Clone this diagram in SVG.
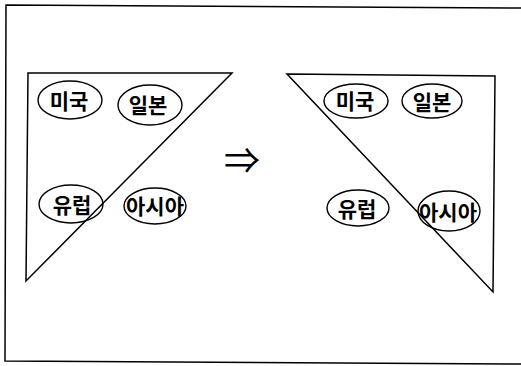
<svg xmlns="http://www.w3.org/2000/svg" width="521" height="366" viewBox="0 0 521 366">
<style>
.ln{fill:none;stroke:#000;stroke-width:1.5;stroke-linejoin:miter}
.el{fill:none;stroke:#000;stroke-width:1.4}
.t{font-family:"Noto Sans CJK KR","Noto Sans",sans-serif;font-size:21px;font-weight:bold;text-anchor:middle;fill:#000}
.ar{font-family:"Noto Sans CJK KR","DejaVu Sans",sans-serif;font-size:36px;text-anchor:middle;fill:#000}
</style>
<rect width="521" height="366" fill="#fff"/>
<g id="frame">
<polyline class="ln" points="521,8 6,5 5,361 521,364"/>
</g>
<g id="connectors">
<polygon class="ln" points="28,73 232,73 26,281"/>
<polygon class="ln" points="287,74 495,76 493,292"/>
</g>
<g id="left-usa"><ellipse class="el" cx="70" cy="100" rx="32" ry="19"/><text class="t" x="69" y="109">미국</text></g>
<g id="left-japan"><ellipse class="el" cx="150" cy="105" rx="32" ry="20"/><text class="t" x="148" y="113">일본</text></g>
<g id="left-europe"><ellipse class="el" cx="71" cy="204" rx="32" ry="19"/><text class="t" x="72" y="213">유럽</text></g>
<g id="left-asia"><ellipse class="el" cx="155" cy="206" rx="31" ry="18"/><text class="t" x="155" y="214">아시아</text></g>
<g id="arrow"><text class="ar" x="242" y="174">⇒</text></g>
<g id="right-usa"><ellipse class="el" cx="356" cy="101" rx="32" ry="17"/><text class="t" x="355" y="109">미국</text></g>
<g id="right-japan"><ellipse class="el" cx="432" cy="101" rx="30" ry="17"/><text class="t" x="432" y="110">일본</text></g>
<g id="right-europe"><ellipse class="el" cx="358" cy="208" rx="31" ry="18"/><text class="t" x="357" y="217">유럽</text></g>
<g id="right-asia"><ellipse class="el" cx="449" cy="211" rx="31" ry="20"/><text class="t" x="448" y="220">아시아</text></g>
</svg>
